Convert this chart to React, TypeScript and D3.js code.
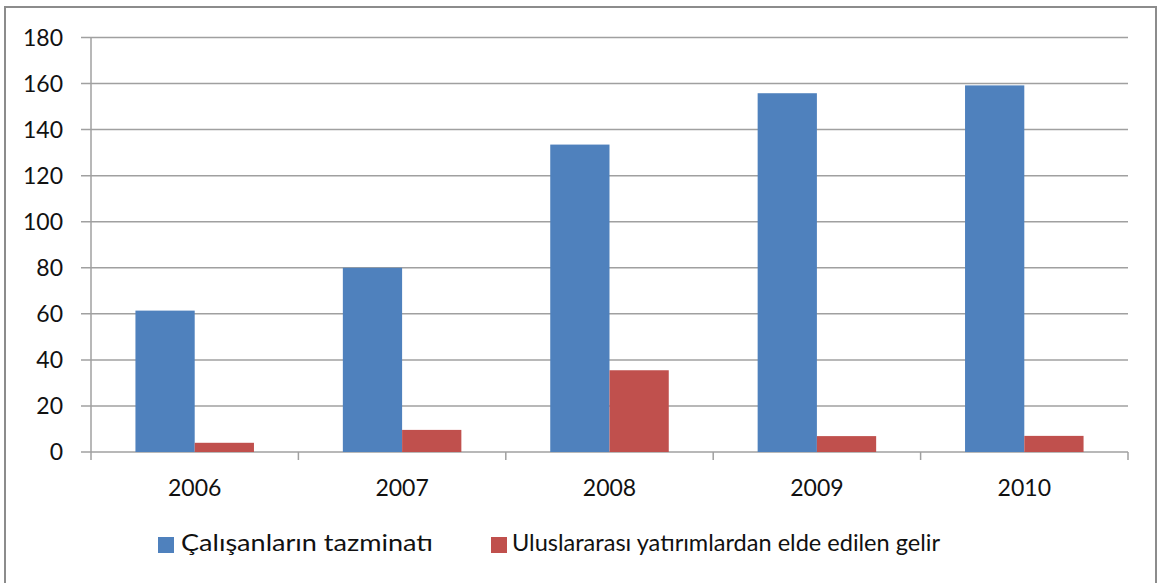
import * as d3 from 'd3';

const years = ['2006', '2007', '2008', '2009', '2010'];
const seriesNames = ['Çalışanların tazminatı', 'Uluslararası yatırımlardan elde edilen gelir'];
const compensation = [61.4, 80, 133.5, 155.8, 159.2];
const investmentIncome = [4, 9.6, 35.5, 6.9, 7];
const yTicks = [0, 20, 40, 60, 80, 100, 120, 140, 160, 180];
const colors = ['#4F81BD', '#C0504D'];

const App = () => {
  const width = 1157;
  const height = 583;
  const left = 91;
  const right = 1128;
  const top = 37.5;
  const bottom = 452;
  const font = 'Lato, "Open Sans", sans-serif';
  const gridColor = '#A0A0A0';

  const x0 = d3.scaleBand<string>().domain(years).range([left, right]);
  const x1 = d3
    .scaleBand<string>()
    .domain(seriesNames)
    .range([0, x0.bandwidth()])
    .paddingInner(0)
    .paddingOuter(0.75);
  const y = d3.scaleLinear().domain([0, 180]).range([bottom, top]);

  const values = [compensation, investmentIncome];

  return (
    <svg
      width={width}
      height={height}
      style={{ position: 'absolute', left: 0, top: 0, background: '#fff' }}
    >
      <rect x={5} y={7} width={1151} height={600} fill="#fff" stroke="#8C8C8C" strokeWidth={2} />

      {yTicks.map((t) => (
        <g key={t}>
          <line x1={81} x2={right} y1={y(t)} y2={y(t)} stroke={gridColor} strokeWidth={1.5} />
          <text
            x={63}
            y={y(t)}
            dy="0.36em"
            textAnchor="end"
            fontFamily={font}
            fontSize={23}
            fill="#111"
          >
            {t}
          </text>
        </g>
      ))}

      <line x1={left} x2={left} y1={top} y2={bottom} stroke={gridColor} strokeWidth={1.5} />
      {[...years.map((yr) => x0(yr) as number), right].map((xv, i) => (
        <line key={i} x1={xv} x2={xv} y1={bottom} y2={bottom + 8} stroke={gridColor} strokeWidth={1.5} />
      ))}

      {years.map((yr, i) => (
        <g key={yr}>
          {seriesNames.map((s, j) => (
            <rect
              key={s}
              x={(x0(yr) as number) + (x1(s) as number)}
              y={y(values[j][i])}
              width={x1.bandwidth()}
              height={bottom - y(values[j][i])}
              fill={colors[j]}
            />
          ))}
          <text
            x={(x0(yr) as number) + x0.bandwidth() / 2}
            y={496}
            textAnchor="middle"
            fontFamily={font}
            fontSize={23}
            fill="#111"
          >
            {yr}
          </text>
        </g>
      ))}

      {/* legend */}
      <rect x={158} y={537} width={16} height={16} fill={colors[0]} />
      <text x={181} y={551} fontFamily={font} fontSize={24} fill="#111" textLength={252} lengthAdjust="spacingAndGlyphs">
        {seriesNames[0]}
      </text>
      <rect x={491} y={537} width={16} height={16} fill={colors[1]} />
      <text x={512} y={551} fontFamily={font} fontSize={24} fill="#111" textLength={428} lengthAdjust="spacingAndGlyphs">
        {seriesNames[1]}
      </text>
    </svg>
  );
};

export default App;
